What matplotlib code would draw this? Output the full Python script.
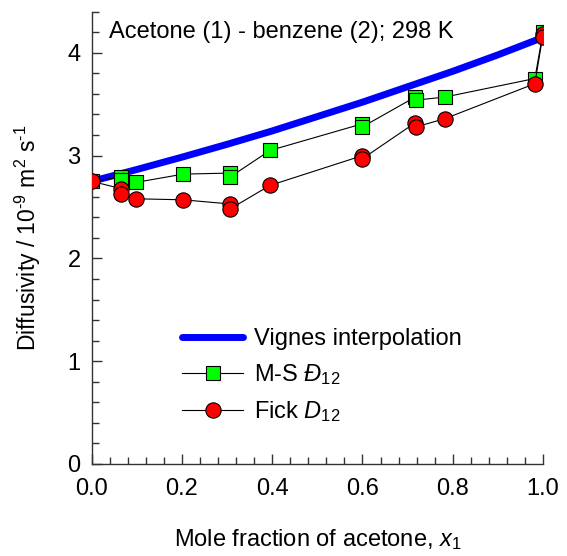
import numpy as np
import matplotlib
matplotlib.use('Agg')
import matplotlib.pyplot as plt
from matplotlib.ticker import MultipleLocator

plt.rcParams['font.family'] = ['Liberation Sans', 'DejaVu Sans']
plt.rcParams['mathtext.fontset'] = 'custom'
plt.rcParams['mathtext.rm'] = 'Liberation Sans'
plt.rcParams['mathtext.it'] = 'Liberation Sans:italic'

# Vignes interpolation curve
x_vig = [0.0, 0.1, 0.2, 0.3, 0.4, 0.5, 0.6, 0.7, 0.8, 0.9, 1.0]
d_vig = [2.75, 2.865, 2.985, 3.11, 3.24, 3.38, 3.52, 3.67, 3.82, 3.98, 4.15]

# Maxwell-Stefan diffusivity
x_ms = [0.0, 0.064, 0.064, 0.099, 0.2025, 0.306, 0.306, 0.395, 0.600, 0.600,
        0.717, 0.719, 0.783, 0.982, 1.0]
d_ms = [2.75, 2.79, 2.76, 2.74, 2.82, 2.83, 2.79, 3.05, 3.31, 3.28,
        3.57, 3.54, 3.57, 3.75, 4.20]

# Fick diffusivity
x_fick = [0.0, 0.064, 0.064, 0.099, 0.2025, 0.306, 0.306, 0.395, 0.600, 0.600,
          0.717, 0.719, 0.783, 0.982, 1.0, 1.0]
d_fick = [2.75, 2.68, 2.63, 2.58, 2.57, 2.53, 2.48, 2.71, 3.00, 2.97,
          3.32, 3.28, 3.36, 3.70, 4.18, 4.15]

fs = 17

fig = plt.figure(figsize=(5.67, 5.56), dpi=100)
ax = fig.add_axes([91.7/567, (556-464)/556, 451.3/567, 452.3/556])

ax.plot(x_vig, d_vig, color='#0000ff', lw=5, solid_capstyle='round',
        label='Vignes interpolation', zorder=2)
ax.plot(x_ms, d_ms, color='black', lw=0.8, marker='s', ms=9.5,
        mfc='#00ff00', mec='black', mew=0.8, label=r'M-S $Đ_{12}$', zorder=3)
ax.plot(x_fick, d_fick, color='black', lw=0.8, marker='o', ms=11,
        mfc='#ff0000', mec='black', mew=0.8, label=r'Fick $D_{12}$', zorder=4)

ax.set_xlim(0, 1.0)
ax.set_ylim(0, 4.4)
ax.xaxis.set_major_locator(MultipleLocator(0.2))
ax.xaxis.set_minor_locator(MultipleLocator(0.04))
ax.yaxis.set_major_locator(MultipleLocator(1))
ax.yaxis.set_minor_locator(MultipleLocator(0.2))
ax.xaxis.set_major_formatter(matplotlib.ticker.FormatStrFormatter('%.1f'))

for s in ['top', 'right']:
    ax.spines[s].set_visible(False)
for s in ['left', 'bottom']:
    ax.spines[s].set_linewidth(1.0)
    ax.spines[s].set_color('#333333')

ax.tick_params(which='both', direction='in', labelsize=fs, width=1.0, color='#333333')
ax.tick_params(which='major', length=7)
ax.tick_params(which='minor', length=5)
ax.tick_params(axis='x', pad=10)
ax.tick_params(axis='y', pad=8)

ax.set_xlabel(r'Mole fraction of acetone, $x_1$', fontsize=fs)
ax.set_ylabel(r'Diffusivity / 10$^{\text{-}9}$ m$^2$ s$^{\text{-}1}$', fontsize=16.5)
ax.xaxis.set_label_coords(0.5, -0.14)
ax.yaxis.set_label_coords(-0.108, 0.5)

ax.text(0.039, 0.941, 'Acetone (1) - benzene (2); 298 K', transform=ax.transAxes,
        fontsize=fs, va='baseline', ha='left')

ax.legend(loc='upper left', bbox_to_anchor=(0.2, 0.30), frameon=False,
          fontsize=fs, handlelength=2.6, handletextpad=0.45, labelspacing=0.5,
          borderpad=0, borderaxespad=0)

plt.savefig('out.png', dpi=100)
